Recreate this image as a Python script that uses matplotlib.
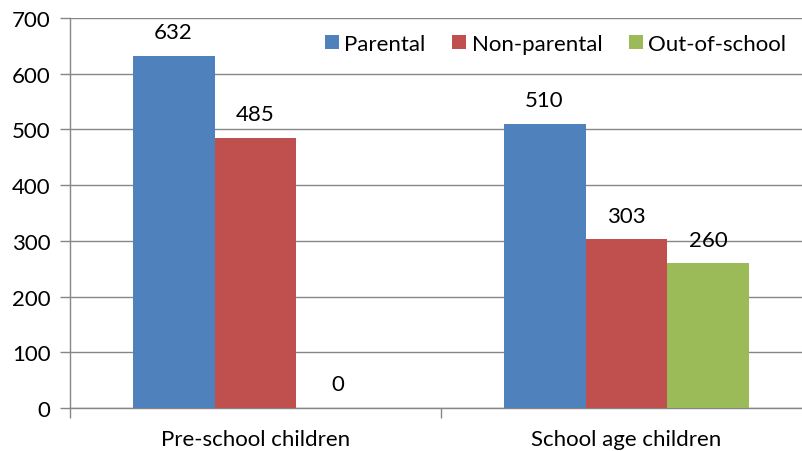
import matplotlib
matplotlib.use("Agg")
import matplotlib.pyplot as plt
import numpy as np

categories = ["Pre-school children", "School age children"]
series_names = ["Parental", "Non-parental", "Out-of-school"]
parental = [632, 510]
non_parental = [485, 303]
out_of_school = [0, 260]

colors = ["#4F81BD", "#C0504D", "#9BBB59"]
grid_grey = "#868686"
fs = 16

plt.rcParams["font.family"] = ["Lato", "DejaVu Sans"]

fig = plt.figure(figsize=(8.02, 4.52), dpi=100)
ax = fig.add_axes([70 / 802, 43 / 452, 742 / 802, 390 / 452])

x = np.arange(len(categories))
width = 0.221
series = [parental, non_parental, out_of_school]
for i, (name, vals) in enumerate(zip(series_names, series)):
    pos = x + (i - 1) * width
    bars = ax.bar(pos, vals, width, color=colors[i], label=name, zorder=3)
    for b, v in zip(bars, vals):
        ax.annotate(str(v), (b.get_x() + b.get_width() / 2, v),
                    xytext=(0, 17), textcoords="offset points",
                    ha="center", va="center", fontsize=fs, color="black")

ax.set_xlim(-0.5, 1.5)
ax.set_ylim(0, 700)
ax.set_yticks(range(0, 701, 100))
ax.yaxis.grid(True, color=grid_grey, linewidth=1.0, zorder=0)
ax.set_axisbelow(True)

ax.set_xticks(x)
ax.set_xticklabels(categories, fontsize=fs)
ax.set_xticks([-0.5, 0.5, 1.5], minor=True)
ax.tick_params(axis="x", which="major", length=0, pad=15)
ax.tick_params(axis="x", which="minor", length=7, color=grid_grey, width=1)
ax.tick_params(axis="y", length=7, color=grid_grey, width=1, labelsize=fs, pad=7)

for side in ["top", "right"]:
    ax.spines[side].set_visible(False)
for side in ["left", "bottom"]:
    ax.spines[side].set_color(grid_grey)
    ax.spines[side].set_linewidth(1.0)

fig.legend(loc="center left", bbox_to_anchor=(325 / 802, 1 - 45 / 452),
           ncol=3, frameon=False, fontsize=fs, handlelength=0.62,
           handleheight=0.62, handletextpad=0.25, columnspacing=1.2,
           borderaxespad=0, borderpad=0)

fig.savefig("out.png", dpi=100)
